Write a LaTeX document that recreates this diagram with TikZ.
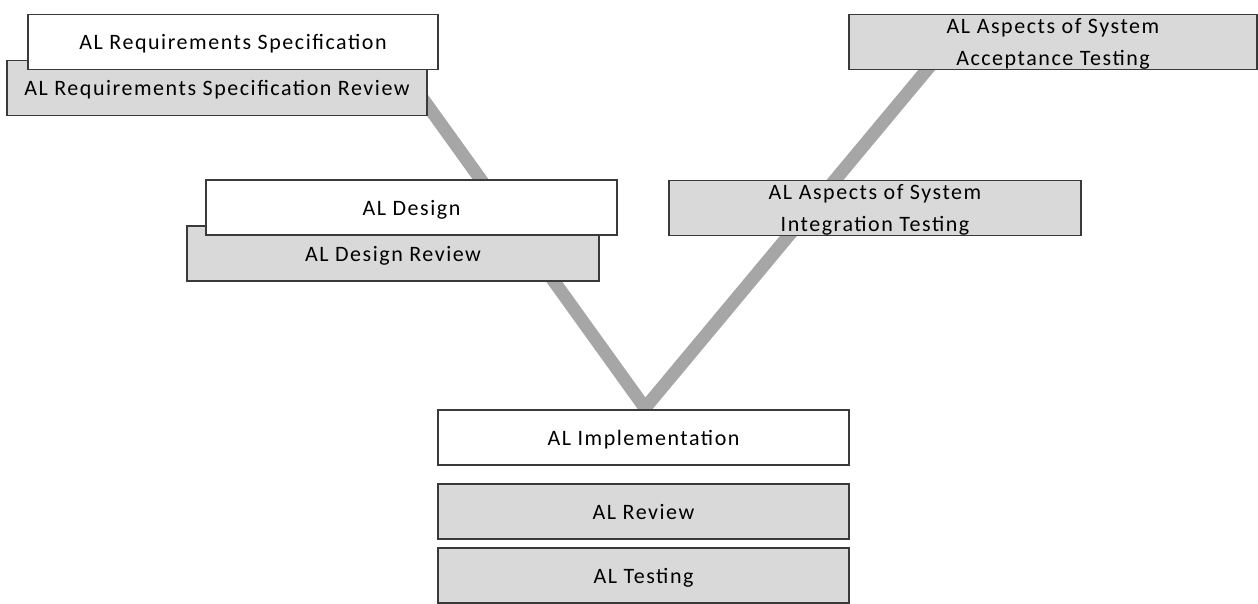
\documentclass[tikz,border=0pt]{standalone}
\usepackage{fontspec}
\setmainfont{Carlito}[LetterSpace=7]
\definecolor{boxgray}{HTML}{D9D9D9}
\definecolor{vgray}{HTML}{A6A6A6}
\definecolor{edgegray}{HTML}{3A3A3A}
\begin{document}
\begin{tikzpicture}[x=1pt,y=-1pt,
  box/.style={draw=edgegray,line width=1.5pt,rectangle,inner sep=0pt,
    minimum width=411pt,minimum height=55pt,text depth=0pt,
    font=\fontsize{22}{32}\selectfont,align=center},
  wbox/.style={box,fill=white},
  gbox/.style={box,fill=boxgray},
  vline/.style={draw=vgray,line width=13pt,line join=miter}]
\useasboundingbox (0,0) rectangle (1258,604);
% V-shaped connector behind the boxes
\coordinate (vl) at (415,88);
\coordinate (vb) at (645,408);
\coordinate (vr) at (950,42);
\draw[vline] (vl) -- (vb) -- (vr);
% left branch
\node[gbox,minimum width=420pt] (rsr) at (217,88) {AL Requirements Specification Review};
\node[wbox,minimum width=410pt] (rs) at (233,42) {AL Requirements Specification};
\node[gbox,minimum width=412pt] (dr) at (393,253.5) {AL Design Review};
\node[wbox] (d) at (411.5,207.5) {AL Design};
% right branch
\node[gbox,minimum width=408pt] (at) at (1053,42) {AL Aspects of System\\Acceptance Testing};
\node[gbox,minimum width=412pt] (it) at (875,208) {AL Aspects of System\\Integration Testing};
% bottom
\node[wbox] (impl) at (643.5,437.5) {AL Implementation};
\node[gbox] (rev) at (643.5,511.5) {AL Review};
\node[gbox] (tst) at (643.5,575.5) {AL Testing};
\end{tikzpicture}
\end{document}
